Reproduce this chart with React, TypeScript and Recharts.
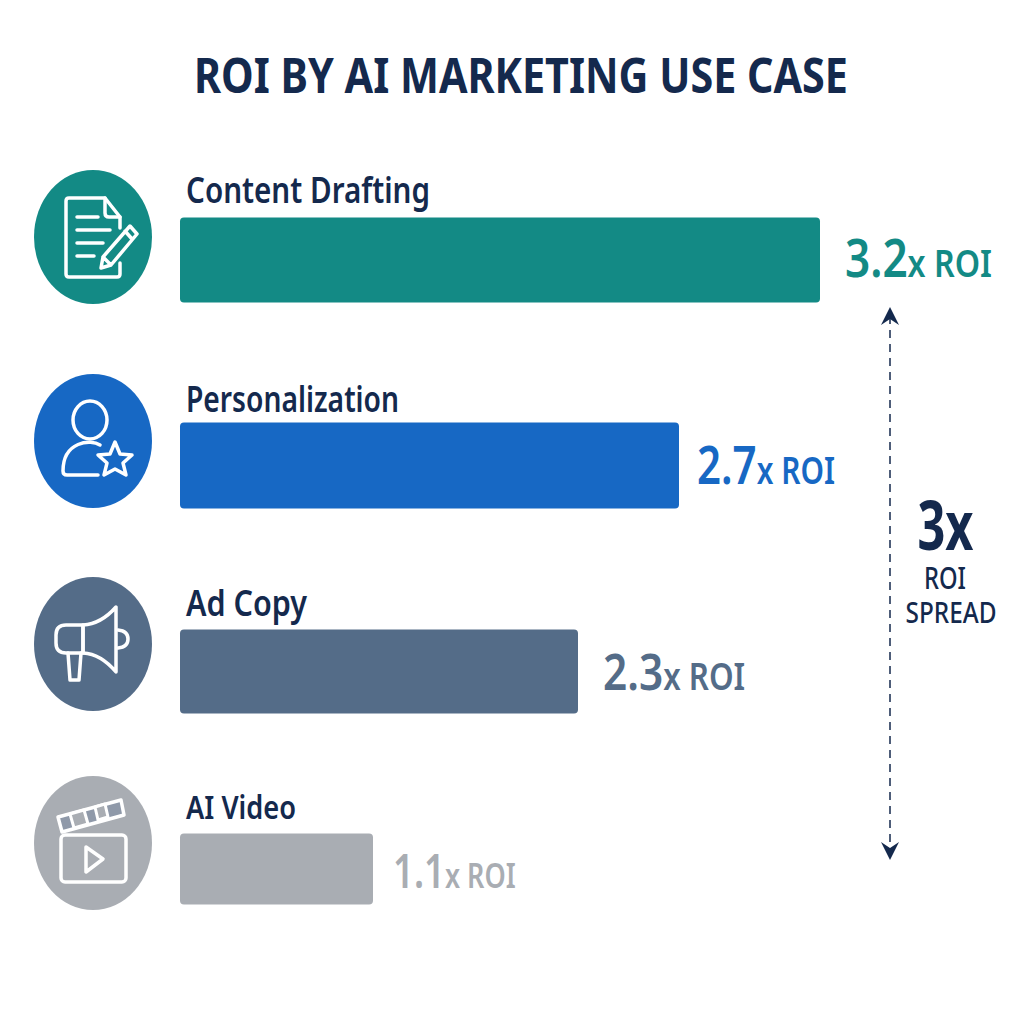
import { BarChart, Bar, XAxis, YAxis, Cell, LabelList, Rectangle } from "recharts";

const categories = ["Content Drafting", "Personalization", "Ad Copy", "AI Video"];
// Drawn bar lengths, in the units of the top bar.
const barLengths = [3.2, 2.495, 1.99, 0.965];
// Printed labels. The picture's bars are not proportional to these.
const roiLabels = ["3.2", "2.7", "2.3", "1.1"];

const colors = ["#138a85", "#1768c4", "#546c88", "#a9adb3"];
const barHeights = [85, 86, 84, 71];
const barShift = [1, 0.5, 0.5, -8];
const iconCenters = [237, 441, 644, 843];
const nameBaselines = [203, 412, 616, 819];
const nameWidths = [244, 213, 121, 110];
const nameSizes = [36, 36, 36, 32];
const valueLeft = [845, 697, 603, 393];
const valueBaselines = [277, 484, 690, 888];
const valueSizes = [52, 52, 50, 46];
const suffixSizes = [38, 37, 37, 34];
const labelSqueeze = [0.848, 0.808, 0.847, 0.795];

const NAVY = "#14294d";
const FONT = "'Noto Sans', sans-serif";

const data = categories.map((name, i) => ({ name, length: barLengths[i] }));

function Icon({ index }: { index: number }) {
  const p = { fill: "none", stroke: "#fff", strokeWidth: 3.5, strokeLinecap: "round" as const, strokeLinejoin: "round" as const };
  if (index === 0) {
    return (
      <g {...p}>
        <path d="M27 -9 V-20 L12 -39 H-24 Q-27 -39 -27 -36 V37 Q-27 40 -24 40 H24 Q27 40 27 37 V26" />
        <path d="M12 -39 V-24 Q12 -20 16 -20 H27" />
        <path d="M-16 -20 H5 M-16 -7 H17 M-16 6 H10 M-16 19 H1" />
        <path d="M8 31 L10 20 L37 -11 L44 -3 L18 28 Z M10 20 L18 28 M32 -6 L39 2" />
      </g>
    );
  }
  if (index === 1) {
    return (
      <g {...p}>
        <ellipse cx={-3} cy={-21} rx={17} ry={19} />
        <path d="M7 4 C-2 -2 -30 0 -30 30 Q-30 34 -26 34 H5" />
        <path d="M22 1 L27 13 L39 14 L30 22 L33 34 L22 28 L11 34 L14 22 L5 14 L17 13 Z" />
      </g>
    );
  }
  if (index === 2) {
    return (
      <g {...p}>
        <path d="M-10 -19 H-27 Q-37 -19 -37 -9 V-1 Q-37 9 -27 9 H-10 Z" />
        <path d="M-10 -19 Q8 -20 23 -37 V28 Q8 10 -10 9 Z" />
        <path d="M25 -14 Q35 -13 35 -5 Q35 3 25 4" />
        <path d="M-25 9 L-23 36 H-14 L-12 9" />
      </g>
    );
  }
  return (
    <g {...p}>
      <rect x={-32} y={-8} width={65} height={47} rx={4} />
      <path d="M-7 4 L10 16 L-7 29 Z" />
      <path d="M-35 -26 L28 -43 L31 -28 L-31 -11 Z" fill="#8f99a9" />
      <path d="M-23 -29 L-19 -15 L-5 -19 L-9 -33 Z M2 -36 L5 -23 L15 -26 L12 -39 Z" fill="#a9adb3" strokeWidth={3} />
    </g>
  );
}

function CategoryTick({ payload, index }: any) {
  const cy = iconCenters[index];
  return (
    <g>
      <ellipse cx={93} cy={cy} rx={59} ry={67} fill={colors[index]} />
      <g transform={`translate(93 ${cy})`}>
        <Icon index={index} />
      </g>
      <text
        x={186}
        y={nameBaselines[index]}
        fill={NAVY}
        fontFamily={FONT}
        fontWeight={600}
        fontSize={nameSizes[index]}
        textLength={nameWidths[index]}
        lengthAdjust="spacingAndGlyphs"
      >
        {payload.value}
      </text>
    </g>
  );
}

function BarShape(props: any) {
  const { x, y, width, height, index, fill } = props;
  const h = barHeights[index];
  const top = y + height / 2 - h / 2 + barShift[index];
  return <Rectangle x={x} y={top} width={width} height={h} radius={4} fill={fill} />;
}

function RoiLabel(props: any) {
  const { index } = props;
  return (
    <text
      transform={`translate(${valueLeft[index]} ${valueBaselines[index]}) scale(${labelSqueeze[index]} 1)`}
      fontFamily={FONT}
      fill={colors[index]}
      fontWeight={600}
    >
      <tspan fontSize={valueSizes[index]}>{roiLabels[index]}</tspan>
      <tspan fontSize={suffixSizes[index]}>x ROI</tspan>
    </text>
  );
}

export default function App() {
  return (
    <div style={{ position: "absolute", left: 0, top: 0, width: 1024, height: 1024, background: "#fff" }}>
      <BarChart
        width={1024}
        height={1024}
        layout="vertical"
        data={data}
        margin={{ top: 156, right: 0, bottom: 44, left: 0 }}
      >
        <text
          x={521}
          y={93}
          textAnchor="middle"
          fill={NAVY}
          fontFamily={FONT}
          fontWeight={700}
          fontSize={48}
          textLength={654}
          lengthAdjust="spacingAndGlyphs"
        >
          ROI BY AI MARKETING USE CASE
        </text>
        <XAxis type="number" domain={[0, 4.22]} hide />
        <YAxis
          type="category"
          dataKey="name"
          width={180}
          interval={0}
          axisLine={false}
          tickLine={false}
          tick={CategoryTick}
        />
        <Bar dataKey="length" isAnimationActive={false} shape={BarShape}>
          {data.map((d, i) => (
            <Cell key={d.name} fill={colors[i]} />
          ))}
          <LabelList dataKey="length" content={RoiLabel} />
        </Bar>
        {/* spread annotation */}
        <line x1={890} y1={316} x2={890} y2={852} stroke={NAVY} strokeWidth={1.5} strokeDasharray="8 6" />
        <path d="M890 307 L899 325 L890 319 L881 325 Z" fill={NAVY} />
        <path d="M890 860 L899 842 L890 848 L881 842 Z" fill={NAVY} />
        <g fontFamily={FONT} fill={NAVY} textAnchor="middle">
          <text x={945.5} y={550} fontSize={68} fontWeight={700} textLength={56} lengthAdjust="spacingAndGlyphs">
            3x
          </text>
          <text x={945} y={589} fontSize={31} fontWeight={500} textLength={42} lengthAdjust="spacingAndGlyphs">
            ROI
          </text>
          <text x={951} y={623} fontSize={28} fontWeight={500} textLength={91} lengthAdjust="spacingAndGlyphs">
            SPREAD
          </text>
        </g>
      </BarChart>
    </div>
  );
}
